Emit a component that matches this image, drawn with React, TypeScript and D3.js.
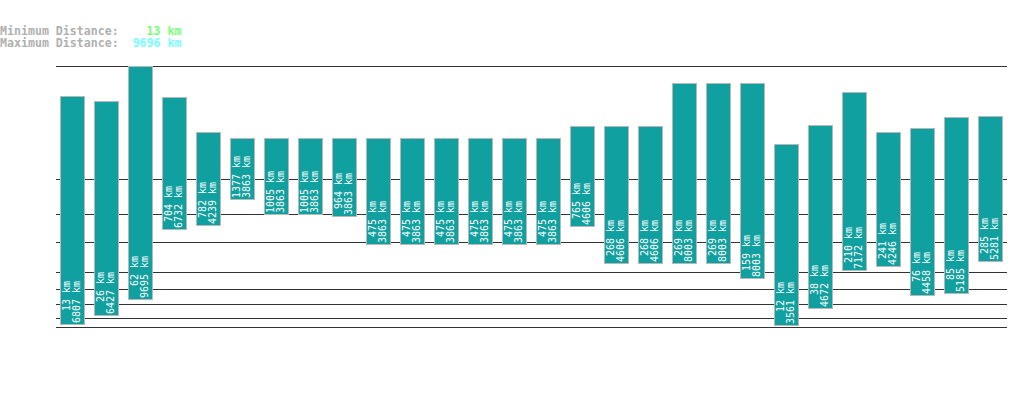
import React from "react";
import * as d3 from "d3";

const minDist = [13, 26, 62, 704, 782, 1377, 1005, 1005, 964, 475, 475, 475, 475, 475, 475, 765, 268, 268, 269, 269, 159, 12, 38, 210, 241, 76, 85, 285];
const maxDist = [6807, 6427, 9695, 6732, 4239, 3863, 3863, 3863, 3863, 3863, 3863, 3863, 3863, 3863, 3863, 4606, 4606, 4606, 8003, 8003, 8003, 3561, 4672, 7172, 4246, 4458, 5185, 5281];
const gridValues = [10, 20, 50, 100, 200, 500, 1000, 2000];
const headerMin = "13 km";
const headerMax = "9696 km";
const yMax = 9695;

const W = 1019;
const H = 402;
const FONT = "'DejaVu Sans Mono', 'Liberation Mono', monospace";
const CW = 6.02;

export default function App() {
  const idx = d3.range(minDist.length);
  const x = d3.scaleBand<number>().domain(idx).range([56, 1008]).padding(0);
  const y = d3.scalePow().exponent(0.3).domain([0, yMax]).range([365.2, 66]);
  const crisp = (v: number) => Math.round(v) + 0.5;
  const pad = (s: string, n: number) => " ".repeat(Math.max(0, n - s.length)) + s;

  return (
    <svg width={W} height={H} style={{ position: "absolute", left: 0, top: 0 }}>
      <rect width={W} height={H} fill="#fff" />
      <text x={0} y={34.8} fontFamily={FONT} fontSize={11.6} fontWeight="bold" xmlSpace="preserve" style={{ whiteSpace: "pre" }}>
        <tspan fill="#b0b0b0">Minimum Distance:</tspan>
        <tspan fill="#77ff77">{pad(headerMin, 9)}</tspan>
      </text>
      <text x={0} y={46.8} fontFamily={FONT} fontSize={11.6} fontWeight="bold" xmlSpace="preserve" style={{ whiteSpace: "pre" }}>
        <tspan fill="#b0b0b0">Maximum Distance:</tspan>
        <tspan fill="#77ffff">{pad(headerMax, 9)}</tspan>
      </text>
      {[...gridValues, yMax].map((v) => (
        <line key={v} x1={56} x2={1007} y1={crisp(y(v))} y2={crisp(y(v))} stroke="#333" strokeWidth={1} />
      ))}
      {idx.map((i) => {
        const bx = (x(i) as number) + 4.5;
        const top = crisp(y(maxDist[i]));
        const bottom = crisp(y(minDist[i]));
        const l1 = `${minDist[i]} km`;
        const l2 = `${maxDist[i]} km`;
        const maxLen = Math.max(l1.length, l2.length);
        const cx = bx + 12;
        const endX = 1.5 + maxLen * CW;
        return (
          <g key={i}>
            <rect x={bx} y={top} width={24} height={bottom - top} fill="#11a0a0" stroke="#b8b8b8" strokeWidth={1} />
            <g transform={`translate(${cx},${bottom}) rotate(-90)`} fontFamily={FONT} fontSize={10} fill="#fff">
              <text x={endX} y={-2.3} textAnchor="end">{l1}</text>
              <text x={endX} y={7.7} textAnchor="end">{l2}</text>
            </g>
          </g>
        );
      })}
    </svg>
  );
}
